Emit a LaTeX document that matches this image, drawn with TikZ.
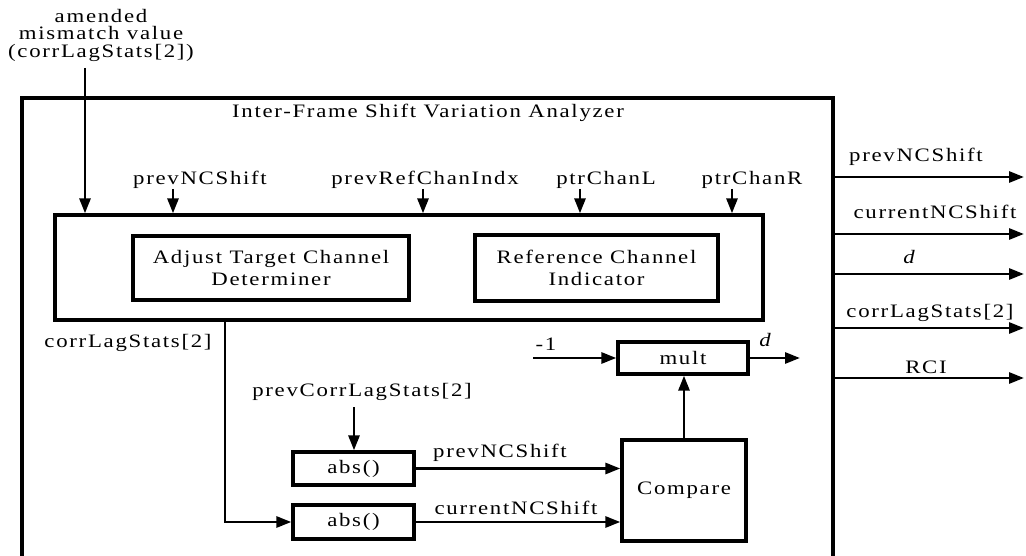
\documentclass[tikz,border=0pt]{standalone}
\usepackage{fontspec}
\setmainfont{Liberation Serif}[FakeStretch=1.2,LetterSpace=9]
\usetikzlibrary{arrows.meta}
\begin{document}
\begin{tikzpicture}[x=1pt,y=-1pt,
  font=\fontsize{19}{22}\selectfont,
  box/.style={draw, line width=3.3pt, inner sep=0pt, align=center},
  conn/.style={line width=2.8pt, -{Triangle[length=15pt,width=11pt]}},
  lbl/.style={inner sep=0pt, align=center}]
\useasboundingbox (0,0) rectangle (1026,556);
\clip (0,0) rectangle (1026,556);
% outer analyzer box (bottom edge lies below the picture)
\node[box, minimum width=811pt, minimum height=500pt] (outer) at (427.5,348) {};
\node[lbl] (title) at (428,113) {Inter-Frame Shift Variation Analyzer};
% inner block
\node[box, minimum width=708pt, minimum height=105pt] (inner) at (409,267.5) {};
\node[box, minimum width=276pt, minimum height=64pt] (atcd) at (271,268) {Adjust Target Channel\\Determiner};
\node[box, minimum width=243pt, minimum height=66pt] (rci) at (596.5,268) {Reference Channel\\Indicator};
% top input
\node[lbl, font=\fontsize{19}{17.5}\selectfont] (amend) at (101,35) {amended\\mismatch value\\(corrLagStats[2])};
\coordinate (amendtail) at (85,68);
\draw[conn] (amendtail) -- (amendtail |- inner.north);
% inputs to inner block
\node[lbl] (inPNC) at (200,180) {prevNCShift};
\coordinate (aPNC) at (173,189);
\draw[conn] (aPNC) -- (aPNC |- inner.north);
\node[lbl] (inPRC) at (425,180) {prevRefChanIndx};
\coordinate (aPRC) at (423,189);
\draw[conn] (aPRC) -- (aPRC |- inner.north);
\node[lbl] (inPL) at (606,180) {ptrChanL};
\coordinate (aPL) at (580,189);
\draw[conn] (aPL) -- (aPL |- inner.north);
\node[lbl] (inPR) at (752,180) {ptrChanR};
\coordinate (aPR) at (732,189);
\draw[conn] (aPR) -- (aPR |- inner.north);
% outputs on the right
\coordinate (o1s) at (833,177); \coordinate (o1e) at (1024,177);
\draw[conn] (o1s) -- (o1e);
\node[lbl] (l1) at (916,157) {prevNCShift};
\coordinate (o2s) at (833,234); \coordinate (o2e) at (1024,234);
\draw[conn] (o2s) -- (o2e);
\node[lbl] (l2) at (935,212) {currentNCShift};
\coordinate (o3s) at (833,274); \coordinate (o3e) at (1024,274);
\draw[conn] (o3s) -- (o3e);
\node[lbl] (l3) at (910,257) {\textit{d}};
\coordinate (o4s) at (833,328); \coordinate (o4e) at (1024,328);
\draw[conn] (o4s) -- (o4e);
\node[lbl] (l4) at (930,313) {corrLagStats[2]};
\coordinate (o5s) at (833,378); \coordinate (o5e) at (1024,378);
\draw[conn] (o5s) -- (o5e);
\node[lbl] (l5) at (926,367) {RCI};
% lower part
\node[lbl] (clsL) at (128,343) {corrLagStats[2]};
\node[box, minimum width=121pt, minimum height=33pt] (abs1) at (353.5,468.5) {abs()};
\node[box, minimum width=121pt, minimum height=34pt] (abs2) at (353.5,522) {abs()};
\coordinate (cls0) at (225,320);
\draw[conn] (cls0) |- (abs2.west);
\node[lbl] (pcls) at (362,392) {prevCorrLagStats[2]};
\coordinate (pclsA) at (354,407);
\draw[conn] (pclsA) -- (pclsA |- abs1.north);
\node[box, minimum width=124pt, minimum height=101pt] (cmp) at (684,490.5) {Compare};
\draw[conn] (abs1.east) -- (abs1.east -| cmp.west);
\draw[conn] (abs2.east) -- (abs2.east -| cmp.west);
\node[lbl] (lp) at (500,453) {prevNCShift};
\node[lbl] (lc) at (516,508) {currentNCShift};
\node[box, minimum width=130pt, minimum height=32pt] (mult) at (683,358) {mult};
\coordinate (m1) at (533,358);
\draw[conn] (m1) -- (mult.west);
\node[lbl] (m1l) at (546,344) {-1};
\coordinate (dout) at (800,358);
\draw[conn] (mult.east) -- (dout);
\node[lbl] (dl) at (766,340) {\textit{d}};
\draw[conn] (cmp.north) -- (cmp.north |- mult.south);
\end{tikzpicture}
\end{document}
